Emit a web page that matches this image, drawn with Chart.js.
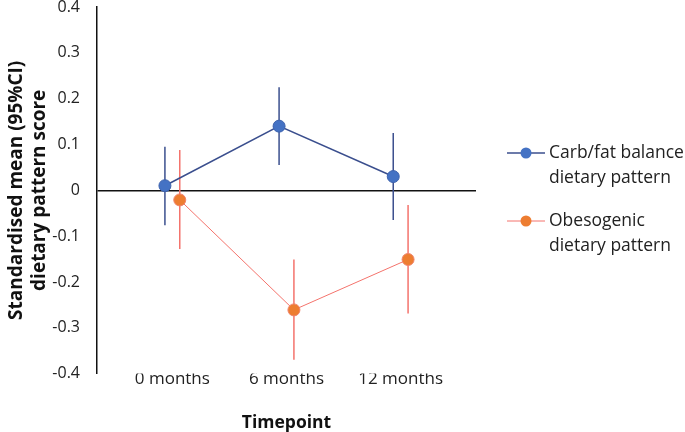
<!DOCTYPE html>
<html>
<head>
<meta charset="utf-8">
<script src="https://cdn.jsdelivr.net/npm/chart.js@4"></script>
<style>
  html, body { margin: 0; padding: 0; background: #fff; }
  #wrap { position: relative; width: 685px; height: 432px; }
</style>
</head>
<body>
<div id="wrap"><canvas id="chart" width="685" height="432"></canvas></div>
<script>
// Data
const timepoints = ['0 months', '6 months', '12 months'];
const carbFatMean = [0.01, 0.14, 0.03];
const carbFatLow = [-0.076, 0.055, -0.065];
const carbFatHigh = [0.095, 0.225, 0.125];
const obesoMean = [-0.021, -0.261, -0.151];
const obesoLow = [-0.128, -0.37, -0.269];
const obesoHigh = [0.088, -0.151, -0.032];
const yTicks = [0.4, 0.3, 0.2, 0.1, 0, -0.1, -0.2, -0.3, -0.4];

const blueLine = '#3b4f8e';
const blueFill = '#4472c4';
const orangeLine = '#f4736c';
const orangeFill = '#ed7d31';
const shift = 0.065; // side-by-side offset of the two series

function toPoints(means, dx) {
  return means.map((v, i) => ({ x: i + dx, y: v }));
}

// Draws the 95% CI bars using the chart scales
const errorBars = {
  id: 'errorBars',
  beforeDatasetsDraw(chart) {
    const { ctx, scales: { x, y } } = chart;
    const sets = [
      { low: carbFatLow, high: carbFatHigh, dx: -shift, color: blueLine, w: 1.5 },
      { low: obesoLow, high: obesoHigh, dx: shift, color: orangeLine, w: 1.5 }
    ];
    ctx.save();
    sets.forEach(s => {
      ctx.strokeStyle = s.color;
      ctx.lineWidth = s.w;
      s.low.forEach((lo, i) => {
        const px = x.getPixelForValue(i + s.dx);
        ctx.beginPath();
        ctx.moveTo(px, y.getPixelForValue(lo));
        ctx.lineTo(px, y.getPixelForValue(s.high[i]));
        ctx.stroke();
      });
    });
    ctx.restore();
  }
};

// Legend on the right, two-line labels
const sideLegend = {
  id: 'sideLegend',
  afterDraw(chart) {
    const { ctx } = chart;
    const items = [
      { lines: ['Carb/fat balance', 'dietary pattern'], line: blueLine, fill: blueFill, y: 153, w: 1.5 },
      { lines: ['Obesogenic', 'dietary pattern'], line: orangeLine, fill: orangeFill, y: 221, w: 1 }
    ];
    ctx.save();
    items.forEach(it => {
      ctx.strokeStyle = it.line;
      ctx.lineWidth = it.w;
      ctx.beginPath();
      ctx.moveTo(507, it.y);
      ctx.lineTo(545, it.y);
      ctx.stroke();
      ctx.beginPath();
      ctx.arc(526, it.y, 5.5, 0, Math.PI * 2);
      ctx.fillStyle = it.fill;
      ctx.fill();
      ctx.fillStyle = '#222';
      ctx.font = '17.5px "Open Sans"';
      ctx.textBaseline = 'middle';
      ctx.textAlign = 'left';
      it.lines.forEach((t, k) => ctx.fillText(t, 549, it.y + k * 25));
    });
    ctx.restore();
  }
};

new Chart(document.getElementById('chart'), {
  type: 'line',
  data: {
    datasets: [
      {
        label: 'Carb/fat balance dietary pattern',
        data: toPoints(carbFatMean, -shift),
        borderColor: blueLine,
        borderWidth: 1.5,
        backgroundColor: blueFill,
        pointBackgroundColor: blueFill,
        pointBorderColor: '#3d62ad',
        pointBorderWidth: 1,
        pointRadius: 6,
        tension: 0
      },
      {
        label: 'Obesogenic dietary pattern',
        data: toPoints(obesoMean, shift),
        borderColor: orangeLine,
        borderWidth: 1,
        backgroundColor: orangeFill,
        pointBackgroundColor: orangeFill,
        pointBorderColor: '#f0836a',
        pointBorderWidth: 1,
        pointRadius: 6,
        tension: 0
      }
    ]
  },
  options: {
    responsive: false,
    animation: false,
    layout: { padding: { top: 0, right: 209, bottom: 0, left: 5 } },
    plugins: {
      legend: { display: false },
      tooltip: { enabled: false }
    },
    scales: {
      x: {
        type: 'linear',
        min: -0.66,
        max: 2.66,
        afterBuildTicks(axis) {
          axis.ticks = timepoints.map((t, i) => ({ value: i }));
        },
        ticks: {
          callback: (v) => timepoints[v],
          color: '#222',
          font: { family: 'Open Sans', size: 17 },
          padding: -5,
          maxRotation: 0
        },
        grid: { display: false, drawTicks: false },
        border: { display: false },
        title: {
          display: true,
          text: 'Timepoint',
          color: '#111',
          font: { family: 'Open Sans', size: 17.5, weight: 'bold' },
          padding: { top: 29, bottom: -2 }
        }
      },
      y: {
        min: -0.4,
        max: 0.4,
        afterBuildTicks(axis) {
          axis.ticks = yTicks.map(v => ({ value: v }));
        },
        afterFit(axis) {
          axis.width = 92;
          axis.paddingTop = 7;
        },
        ticks: {
          callback: (v) => (v === 0 ? '0' : v.toFixed(1)),
          color: '#222',
          font: { family: 'Open Sans', size: 16 },
          padding: 17
        },
        grid: {
          drawTicks: false,
          lineWidth: (c) => (c.tick && c.tick.value === 0 ? 1.5 : 0),
          color: '#111'
        },
        border: { display: true, color: '#111', width: 1.5 },
        title: {
          display: true,
          text: ['Standardised mean (95%CI)', 'dietary pattern score'],
          color: '#111',
          font: { family: 'Open Sans', size: 19, weight: 'bold', lineHeight: 1.2 },
          padding: { top: 0, bottom: 2 }
        }
      }
    }
  },
  plugins: [errorBars, sideLegend]
});
</script>
</body>
</html>
